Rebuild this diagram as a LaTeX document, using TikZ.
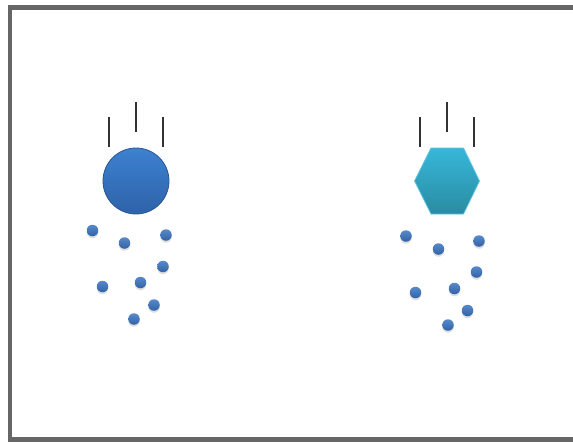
\documentclass[tikz,border=0pt]{standalone}
\usetikzlibrary{calc, shadows}
\definecolor{balltop}{HTML}{3D81D0}
\definecolor{ballbot}{HTML}{2E62A8}
\definecolor{hextop}{HTML}{37B7D9}
\definecolor{hexbot}{HTML}{2A8BA2}
\definecolor{dotblue}{HTML}{3A74C2}
\definecolor{framegray}{HTML}{666666}
\begin{document}
\begin{tikzpicture}[
    x=1pt, y=-1pt,
    ball/.style={circle, minimum size=66pt, inner sep=0pt, draw=ballbot!90!black, line width=0.8pt, top color=balltop, bottom color=ballbot},
    hexfill/.style={draw=hextop!80!white, line width=0.8pt, top color=hextop, bottom color=hexbot},
    grain/.style={circle, minimum size=11.5pt, inner sep=0pt, top color=dotblue!85!white, bottom color=dotblue!85!black, drop shadow={shadow xshift=0pt, shadow yshift=-2pt, opacity=0.25}},
    fall/.style={line width=1.8pt, draw=black!80}
]
\useasboundingbox (0,0) rectangle (573,442);

% Cornice
\draw[framegray, line width=4.5pt] (10,7.5) rectangle (590,439.5);

% Sfera
\node[ball] (ball) at (136,181) {};
\draw[fall] (109,117) -- (109,147);
\draw[fall] (136,102) -- (136,132);
\draw[fall] (163,117) -- (163,147);

% Esagono
\coordinate (hex) at (447,181);
\draw[hexfill] ($(hex)+(-32.5,0)$) -- ($(hex)+(-16,-33)$) -- ($(hex)+(16.5,-33)$)
    -- ($(hex)+(32.5,0)$) -- ($(hex)+(16.5,33)$) -- ($(hex)+(-16,33)$) -- cycle;
\draw[fall] (420,117) -- (420,147);
\draw[fall] (447,102) -- (447,132);
\draw[fall] (474,117) -- (474,147);

% Granelli sotto la sfera
\node[grain] (a1) at (92.5,230.5) {};
\node[grain] (a2) at (124.5,243) {};
\node[grain] (a3) at (166,235) {};
\node[grain] (a4) at (163,266.5) {};
\node[grain] (a5) at (102.5,286.5) {};
\node[grain] (a6) at (140.5,282.5) {};
\node[grain] (a7) at (154,305) {};
\node[grain] (a8) at (134,319) {};

% Granelli sotto l'esagono
\node[grain] (b1) at (406,236) {};
\node[grain] (b2) at (438.5,249) {};
\node[grain] (b3) at (479,241) {};
\node[grain] (b4) at (476.5,272) {};
\node[grain] (b5) at (415.5,292.5) {};
\node[grain] (b6) at (454.5,288.5) {};
\node[grain] (b7) at (467.5,310.5) {};
\node[grain] (b8) at (448,325) {};

\end{tikzpicture}
\end{document}
